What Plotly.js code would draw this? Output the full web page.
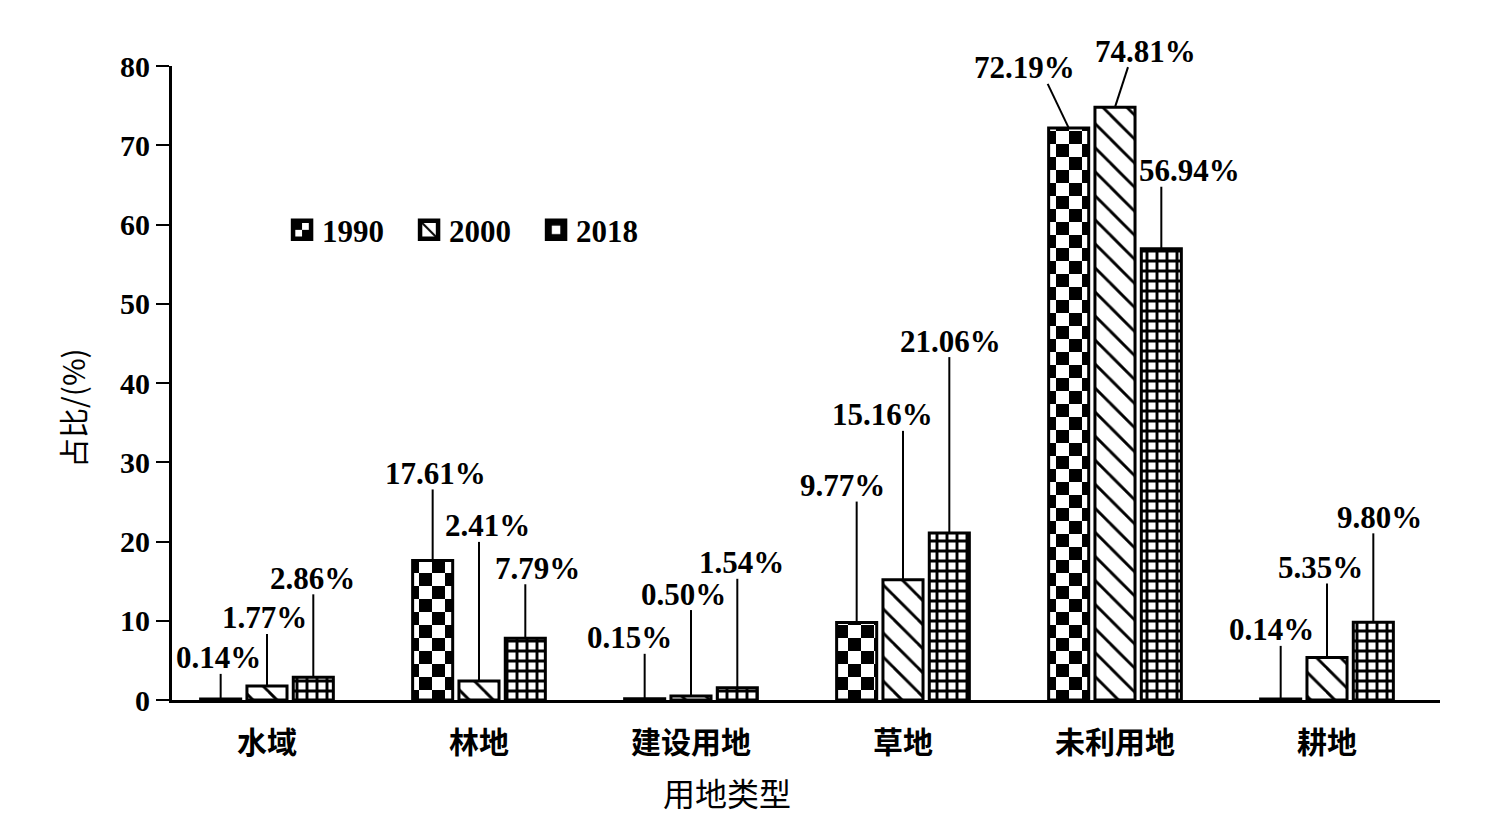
<!DOCTYPE html>
<html><head><meta charset="utf-8">
<script src="https://cdn.plot.ly/plotly-3.0.1.min.js"></script>
<style>html,body{margin:0;padding:0;background:#fff;}#chart{width:1491px;height:828px;}</style>
</head><body><div id="chart"></div>
<script>
// ---- data ----
const categories = ['水域','林地','建设用地','草地','未利用地','耕地'];
const years = ['1990','2000','2018'];
const v1990 = [0.14, 17.61, 0.15, 9.77, 72.19, 0.14];
const v2000 = [1.77, 2.41, 0.50, 15.16, 74.81, 5.35];
const v2018 = [2.86, 7.79, 1.54, 21.06, 56.94, 9.80];
const yTicks = [0, 10, 20, 30, 40, 50, 60, 70, 80];
const xTitle = '用地类型';
const yTitle = '占比/(%)';

// ---- layout-only settings (pixel offsets of value labels: [dx, dy, leader-line dx]) ----
const labelOffsets = [
  [[-2,-41,0],[3,-87,0],[-15,-61,0],[-14,-137,0],[-44,-60,-21],[-9,-69,0]],
  [[-2,-68,0],[9,-155,0],[-7,-102,0],[-20,-165,0],[30,-56,13],[-7,-90,0]],
  [[-1,-99,0],[12,-70,0],[4,-125,0],[1,-192,0],[28,-78,0],[6,-105,0]]
];
const series = [v1990, v2000, v2018];
const BARGAP = 0.3445, GROUPGAP = 0.135;
const slot = (1 - BARGAP) / 3;
const SERIF = 'Liberation Serif, Times New Roman, serif';
const CJK = 'Noto Sans CJK SC, sans-serif';

const patterns = [
  {shape: '.', fgcolor: '#000', bgcolor: '#fff', size: 26, solidity: 0.3},
  {shape: '\\', fgcolor: '#000', bgcolor: '#fff', size: 17, solidity: 0.17},
  {shape: '+', fgcolor: '#000', bgcolor: '#fff', size: 10, solidity: 0.5}
];

const traces = series.map((vals, s) => ({
  type: 'bar', name: years[s], x: categories, y: vals,
  marker: {color: '#fff', line: {color: '#000', width: 3}, pattern: patterns[s]},
  hoverinfo: 'skip'
}));

const annotations = [];
const shapes = [];
series.forEach((vals, s) => {
  vals.forEach((v, i) => {
    const [dx, dy, lx] = labelOffsets[s][i];
    const xc = i + (s - 1) * slot;
    annotations.push({
      x: xc, y: v, xref: 'x', yref: 'y', text: v.toFixed(2) + '%', showarrow: false,
      xshift: dx, yshift: -dy, xanchor: 'center', yanchor: 'middle',
      font: {family: SERIF, size: 31, color: '#000', weight: 'bold'}
    });
    shapes.push({
      type: 'line', xref: 'x', yref: 'y', layer: 'above',
      xsizemode: 'pixel', xanchor: xc, x0: 0, x1: lx,
      ysizemode: 'pixel', yanchor: v, y0: 0, y1: -dy - 16,
      line: {color: '#000', width: 2}
    });
  });
});
annotations.push({
  xref: 'paper', yref: 'paper', x: 0.4377, y: -0.145, text: xTitle, showarrow: false,
  xanchor: 'center', yanchor: 'middle',
  font: {family: CJK, size: 32, color: '#000'}
});
annotations.push({
  xref: 'paper', yref: 'paper', x: -0.0789, y: 0.4606, text: yTitle, showarrow: false,
  textangle: -90, xanchor: 'center', yanchor: 'middle',
  font: {family: CJK, size: 30, color: '#000'}
});

const layout = {
  width: 1491, height: 828,
  margin: {l: 172, r: 51, t: 66, b: 128},
  paper_bgcolor: '#fff', plot_bgcolor: '#fff',
  barmode: 'group', bargap: BARGAP, bargroupgap: GROUPGAP,
  showlegend: true,
  legend: {
    orientation: 'h', x: 0.0868, xanchor: 'left', y: 0.741, yanchor: 'middle',
    bgcolor: 'rgba(0,0,0,0)', entrywidth: 82, entrywidthmode: 'pixels',
    font: {family: SERIF, size: 31, color: '#000', weight: 'bold'}
  },
  xaxis: {
    type: 'category', range: [-0.448, 5.533], showline: true, linecolor: '#000', linewidth: 2.5,
    ticks: '', showgrid: false, zeroline: false, ticklabelstandoff: 14,
    tickfont: {family: CJK, size: 30, color: '#000', weight: 'bold'}
  },
  yaxis: {
    range: [0, 80], tickvals: yTicks, ticktext: yTicks.map(String),
    showline: true, linecolor: '#000', linewidth: 3, ticks: 'outside', ticklen: 13, tickwidth: 2,
    tickcolor: '#000', showgrid: false, zeroline: false,
    tickfont: {family: SERIF, size: 30, color: '#000', weight: 'bold'}
  },
  annotations: annotations,
  shapes: shapes
};

function patchPatterns(gd) {
  const ids = new Set();
  const barTr = gd.querySelectorAll('.barlayer .trace')[0];
  const paths = barTr ? Array.from(barTr.querySelectorAll('path')) : [];
  const legTr = gd.querySelectorAll('.legend .traces');
  legTr.forEach(t => t.querySelectorAll('.legendpoints path').forEach(p => {
    p.setAttribute('transform', (p.getAttribute('transform') || '') + ' scale(1.5)');
  }));
  if (legTr[0]) paths.push(...legTr[0].querySelectorAll('.legendpoints path'));
  paths.forEach(p => {
    const f = (p.style && p.style.fill) || p.getAttribute('fill') || '';
    const m = f.match(/#([^'")]+)/);
    if (m) ids.add(m[1]);
  });
  const NS = 'http://www.w3.org/2000/svg';
  ids.forEach(id => {
    const pat = document.getElementById(id);
    if (!pat) return;
    const c = 13;
    while (pat.firstChild) pat.removeChild(pat.firstChild);
    pat.setAttribute('width', 2 * c); pat.setAttribute('height', 2 * c);
    const mk = (x, y, w, h, fill) => {
      const r = document.createElementNS(NS, 'rect');
      r.setAttribute('x', x); r.setAttribute('y', y); r.setAttribute('width', w); r.setAttribute('height', h);
      r.setAttribute('fill', fill); pat.appendChild(r);
    };
    mk(0, 0, 2 * c, 2 * c, '#fff');
    mk(0, 0, c, c, '#000');
    mk(c, c, c, c, '#000');
  });
}

Plotly.newPlot('chart', traces, layout, {displayModeBar: false, staticPlot: true}).then(patchPatterns);
</script>
</body></html>
